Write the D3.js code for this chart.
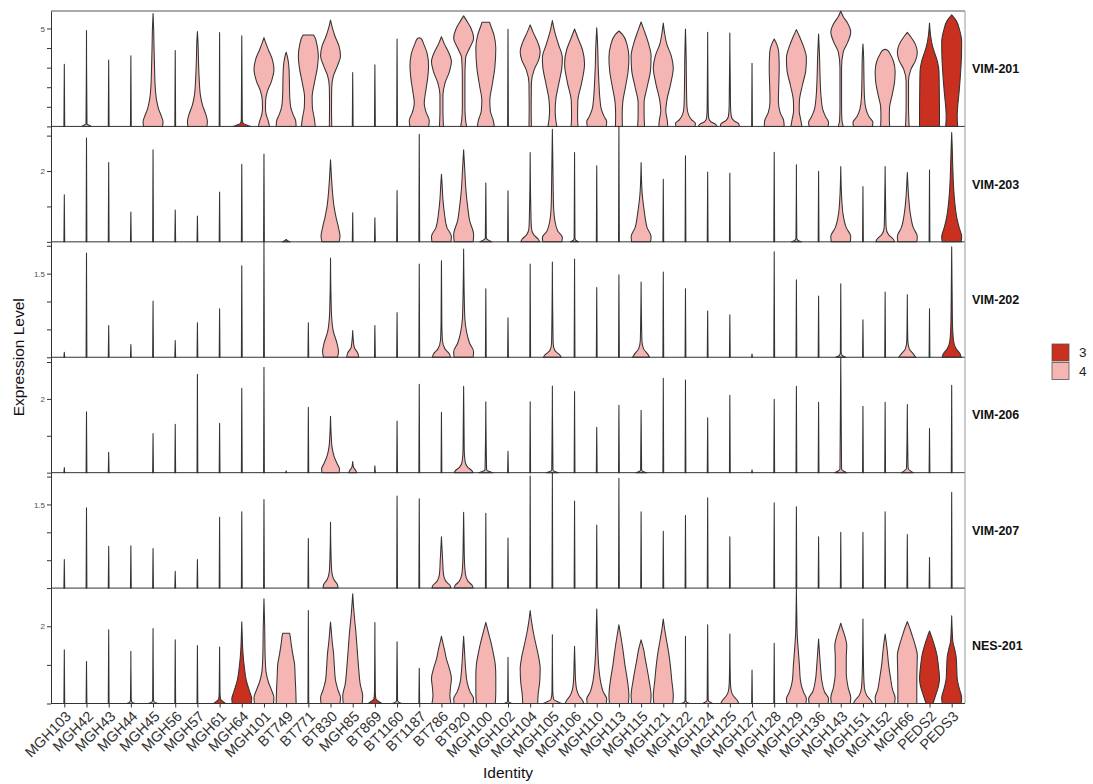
<!DOCTYPE html>
<html>
<head>
<meta charset="utf-8">
<script src="https://cdn.jsdelivr.net/npm/d3@7"></script>
<style>
  html, body { margin: 0; padding: 0; background: #fff; }
  svg { display: block; font-family: "Liberation Sans", Arial, sans-serif; }
</style>
</head>
<body>
<svg id="chart" width="1093" height="784"></svg>
<script>
// Sample identities along the x axis
const identities = ["MGH103","MGH42","MGH43","MGH44","MGH45","MGH56","MGH57","MGH61","MGH64",
  "MGH101","BT749","BT771","BT830","MGH85","BT869","BT1160","BT1187","BT786","BT920","MGH100",
  "MGH102","MGH104","MGH105","MGH106","MGH110","MGH113","MGH115","MGH121","MGH122","MGH124",
  "MGH125","MGH127","MGH128","MGH129","MGH136","MGH143","MGH151","MGH152","MGH66","PEDS2","PEDS3"];

// Identities belonging to group "3"; all others are group "4"
const group3 = ["MGH61","MGH64","BT869","PEDS2","PEDS3"];
const groups = ["3", "4"];
const groupColors = ["#c9301f", "#f5b5b2"];

// Transcripts, one per panel row
const genes = ["VIM-201","VIM-203","VIM-202","VIM-206","VIM-207","NES-201"];

// Violin profiles per identity: a number is a bare violin reaching that value,
// an array lists [expression, relative half-width] knots from 0 up to the maximum.
const vim201 = [3.17, [[0,0.5],[0.05,0.3],[0.12,0.05],[4.89,0]], 3.39, 3.6,
  [[0,0.95],[0.25,1.0],[0.5,0.85],[0.9,0.55],[1.35,0.35],[2,0.22],[3,0.15],[4,0.1],[5,0.06],[5.76,0]],
  3.87,
  [[0,0.95],[0.25,1.0],[0.6,0.85],[1.1,0.5],[1.6,0.3],[2.4,0.18],[3.5,0.1],[4.3,0.06],[4.84,0]],
  4.79,
  [[0,0.9],[0.05,0.6],[0.15,0.15],[0.3,0.05],[1,0.04],[4.62,0]],
  [[0,0.55],[0.25,0.45],[0.55,0.25],[0.9,0.15],[1.35,0.17],[1.8,0.35],[2.3,0.75],[2.9,1.0],[3.4,0.85],[3.9,0.45],[4.3,0.15],[4.53,0]],
  [[0,1.0],[0.3,0.95],[0.6,0.7],[1.0,0.45],[1.6,0.35],[2.4,0.32],[3.0,0.28],[3.5,0.15],[3.79,0]],
  [[0,0.7],[0.4,0.6],[1.0,0.4],[1.5,0.38],[2.2,0.6],[3.0,0.9],[3.6,1.0],[4.2,0.85],[4.6,0.6],[4.67,0.5]],
  [[0,0.12],[1,0.1],[2,0.12],[2.6,0.3],[3.1,0.7],[3.6,1.0],[4.1,0.85],[4.6,0.45],[5.0,0.2],[5.43,0]],
  2.75, 3.14, 4.46,
  [[0,0.95],[0.3,1.0],[0.7,0.7],[1.2,0.5],[1.8,0.65],[2.5,0.85],[3.1,0.93],[3.7,0.8],[4.2,0.45],[4.5,0.15],[4.53,0]],
  [[0,0.2],[0.8,0.15],[1.6,0.15],[2.2,0.35],[2.8,0.8],[3.3,1.0],[3.8,0.7],[4.2,0.3],[4.58,0]],
  [[0,0.3],[0.3,0.2],[1,0.13],[2.5,0.13],[3.5,0.2],[4.0,0.6],[4.5,1.0],[5.0,0.75],[5.4,0.3],[5.64,0]],
  [[0,0.85],[0.3,0.75],[0.8,0.45],[1.35,0.4],[2.0,0.6],[3.0,0.9],[4.0,1.0],[4.7,0.8],[5.2,0.45],[5.32,0.38]],
  4.96,
  [[0,0.12],[1,0.1],[2.2,0.12],[2.9,0.4],[3.4,0.85],[3.8,1.0],[4.3,0.75],[4.8,0.3],[5.18,0]],
  [[0,0.45],[0.3,0.35],[0.8,0.28],[1.4,0.35],[2.2,0.65],[3.0,0.95],[3.5,1.0],[4.2,0.6],[4.8,0.25],[5.4,0]],
  [[0,0.35],[0.5,0.3],[1.3,0.33],[2.2,0.7],[3.2,1.0],[3.9,0.8],[4.5,0.35],[4.97,0]],
  [[0,0.95],[0.25,1.0],[0.5,0.75],[0.9,0.45],[1.4,0.32],[2.2,0.22],[3.0,0.15],[4.0,0.1],[5.03,0]],
  [[0,0.35],[0.6,0.33],[1.2,0.38],[2.0,0.65],[2.8,0.92],[3.5,1.0],[4.2,0.8],[4.7,0.35],[4.87,0]],
  [[0,0.35],[0.6,0.3],[1.2,0.3],[2.0,0.6],[2.9,0.95],[3.6,1.0],[4.3,0.7],[4.9,0.3],[5.33,0]],
  [[0,0.45],[0.3,0.4],[0.8,0.25],[1.3,0.35],[2.2,0.75],[3.0,1.0],[3.6,0.8],[4.2,0.35],[4.8,0.12],[5.27,0]],
  [[0,0.95],[0.15,1.0],[0.35,0.6],[0.6,0.3],[1.0,0.15],[2,0.1],[3.5,0.07],[4.97,0]],
  [[0,0.95],[0.1,0.8],[0.25,0.3],[0.45,0.1],[1,0.05],[4.8,0]],
  [[0,0.95],[0.12,0.9],[0.3,0.4],[0.5,0.15],[1,0.07],[4.77,0]],
  3.22,
  [[0,1.0],[0.3,0.95],[0.7,0.6],[1.3,0.42],[2.0,0.45],[3.0,0.5],[3.8,0.45],[4.2,0.25],[4.46,0]],
  [[0,0.55],[0.3,0.45],[0.8,0.28],[1.3,0.3],[2.1,0.6],[2.9,0.95],[3.5,1.0],[4.1,0.7],[4.6,0.3],[4.94,0]],
  [[0,0.95],[0.2,1.0],[0.5,0.7],[0.9,0.4],[1.5,0.25],[2.5,0.15],[3.5,0.1],[4.72,0]],
  [[0,0.25],[0.3,0.12],[1,0.08],[3,0.08],[3.8,0.25],[4.3,0.7],[4.8,1.0],[5.3,0.65],[5.6,0.25],[5.89,0]],
  [[0,0.95],[0.2,1.0],[0.5,0.6],[0.9,0.3],[1.5,0.15],[2.5,0.1],[3.5,0.07],[4.21,0]],
  [[0,0.45],[0.5,0.42],[1.0,0.45],[1.6,0.7],[2.3,0.95],[2.8,1.0],[3.3,0.85],[3.7,0.5],[3.9,0.2],[3.94,0]],
  [[0,0.18],[1,0.12],[2.3,0.12],[2.9,0.35],[3.4,0.85],[3.8,1.0],[4.2,0.8],[4.6,0.3],[4.8,0]],
  [[0,1.0],[0.8,1.0],[1.8,0.98],[2.8,0.95],[3.3,0.8],[3.7,0.55],[4.1,0.3],[4.6,0.12],[5.27,0]],
  [[0,0.6],[0.5,0.55],[1.0,0.6],[1.8,0.75],[2.8,0.9],[3.6,0.98],[4.3,1.0],[4.9,0.8],[5.4,0.45],[5.69,0]]
];

const vim203 = [1.33, 2.93, 2.24, 0.84, 2.6, 0.9, 0.73, 1.41, 2.19, 2.48,
  [[0,0.4],[0.03,0.15],[0.07,0]],
  0,
  [[0,0.85],[0.15,0.95],[0.4,0.8],[0.7,0.55],[1.0,0.35],[1.4,0.2],[1.8,0.1],[2.32,0]],
  0.82, 0.68, 1.45, 3.04,
  [[0,0.95],[0.15,1.0],[0.4,0.55],[0.8,0.3],[1.2,0.15],[1.6,0.07],[1.91,0]],
  [[0,0.95],[0.2,1.0],[0.6,0.6],[1.0,0.4],[1.5,0.22],[2.0,0.12],[2.6,0]],
  [[0,0.6],[0.04,0.3],[0.1,0.05],[1.66,0]],
  1.44,
  [[0,0.95],[0.08,0.8],[0.2,0.35],[0.4,0.12],[1,0.06],[2.52,0]],
  [[0,0.95],[0.12,1.0],[0.3,0.55],[0.6,0.25],[1.0,0.12],[2,0.06],[3.18,0]],
  [[0,0.4],[0.05,0.1],[0.12,0.04],[2.52,0]],
  2.15, 3.26,
  [[0,0.95],[0.15,1.0],[0.4,0.6],[0.7,0.4],[1.0,0.25],[1.4,0.1],[2.24,0]],
  1.77, 2.43, 1.97, 1.94, 0, 2.53,
  [[0,0.5],[0.04,0.15],[0.1,0.04],[2.18,0]],
  1.99,
  [[0,0.95],[0.15,1.0],[0.4,0.55],[0.8,0.22],[1.2,0.1],[2.13,0]],
  1.56,
  [[0,0.95],[0.08,0.8],[0.2,0.35],[0.4,0.1],[1,0.05],[2.13,0]],
  [[0,0.95],[0.15,1.0],[0.4,0.6],[0.8,0.3],[1.2,0.15],[1.6,0.06],[1.96,0]],
  2.03,
  [[0,0.95],[0.15,1.0],[0.4,0.75],[0.7,0.5],[1.0,0.35],[1.5,0.2],[2.2,0.1],[2.7,0.05],[3.09,0]]
];

const vim202 = [0.09, 1.87, 0.57, 0.23, 1.01, 0.3, 0.62, 0.87, 1.64, 2.07, 0, 0.62,
  [[0,0.7],[0.1,0.8],[0.25,0.65],[0.45,0.3],[0.7,0.12],[1.0,0.06],[1.78,0]],
  [[0,0.6],[0.08,0.5],[0.18,0.15],[0.48,0]],
  0.57, 0.8, 1.67,
  [[0,0.9],[0.06,0.8],[0.15,0.35],[0.3,0.1],[0.6,0.04],[1.73,0]],
  [[0,0.95],[0.1,1.0],[0.25,0.6],[0.45,0.3],[0.7,0.12],[1.1,0.06],[1.94,0]],
  1.23, 0.71, 1.67,
  [[0,0.9],[0.05,0.7],[0.12,0.25],[0.25,0.08],[1.71,0]],
  1.76, 1.25, 1.48,
  [[0,0.85],[0.06,0.65],[0.15,0.25],[0.3,0.08],[1.35,0]],
  1.53, 1.23, 0.83, 0.76, 0.06, 1.89, 1.39, 1.1,
  [[0,0.5],[0.03,0.15],[0.08,0.04],[1.32,0]],
  0.67, 1.17,
  [[0,0.85],[0.06,0.6],[0.15,0.2],[0.3,0.05],[1.12,0]],
  0.87,
  [[0,0.95],[0.06,0.85],[0.15,0.45],[0.3,0.18],[0.6,0.08],[1.2,0.04],[1.98,0]]
];

const vim206 = [0.14, 1.65, 0.55, 0, 1.06, 1.31, 2.67, 1.34, 2.29, 2.86, 0.05, 1.77,
  [[0,0.85],[0.1,0.9],[0.25,0.65],[0.45,0.35],[0.7,0.15],[1.0,0.07],[1.53,0]],
  [[0,0.4],[0.06,0.3],[0.15,0.08],[0.3,0]],
  0.19, 1.4, 2.4, 1.64,
  [[0,0.95],[0.06,0.8],[0.15,0.4],[0.3,0.15],[0.6,0.06],[1.2,0.04],[2.34,0]],
  [[0,0.7],[0.03,0.35],[0.08,0.08],[1.92,0]],
  0.58, 1.92,
  [[0,0.6],[0.03,0.25],[0.08,0.06],[2.35,0]],
  2.2, 1.23, 1.83,
  [[0,0.55],[0.03,0.2],[0.08,0.05],[1.69,0]],
  2.56, 2.51, 1.49, 2.1, 0.08, 1.99, 2.34, 1.91,
  [[0,0.6],[0.04,0.3],[0.1,0.08],[3.13,0]],
  1.8, 1.91,
  [[0,0.6],[0.05,0.3],[0.12,0.08],[1.85,0]],
  1.2, 2.37
];

const vim207 = [0.51, 1.44, 0.75, 0.76, 0.71, 0.3, 0.51, 1.27, 1.37, 1.59, 0, 0.89,
  [[0,0.75],[0.06,0.7],[0.15,0.35],[0.3,0.12],[0.6,0.05],[1.18,0]],
  0, 0, 1.65, 1.6,
  [[0,0.95],[0.05,0.85],[0.12,0.45],[0.25,0.2],[0.5,0.12],[0.7,0.06],[0.92,0]],
  [[0,0.95],[0.05,0.85],[0.12,0.45],[0.25,0.18],[0.5,0.08],[0.9,0.04],[1.36,0]],
  1.34, 0.9, 2.01, 2.07, 1.56, 1.13, 1.97, 1.37, 1.02, 1.3, 1.62, 0.92, 0,
  1.53, 1.46, 0.92, 1.0, 1.0, 1.37, 0.96, 0.55, 1.72
];

const nes201 = [1.39, 1.09, 1.91,
  [[0,0.4],[0.04,0.1],[0.1,0.04],[1.35,0]],
  [[0,0.5],[0.04,0.12],[0.1,0.04],[1.94,0]],
  1.65, 1.5,
  [[0,0.6],[0.05,0.35],[0.12,0.08],[0.3,0.04],[1.46,0]],
  [[0,0.95],[0.12,1.0],[0.3,0.8],[0.6,0.45],[0.95,0.25],[1.3,0.12],[1.7,0.05],[2.12,0]],
  [[0,0.95],[0.15,1.0],[0.35,0.75],[0.55,0.45],[0.8,0.22],[1.2,0.12],[2,0.07],[2.71,0]],
  [[0,1.0],[0.3,0.97],[0.7,0.9],[1.0,0.85],[1.3,0.65],[1.55,0.5],[1.75,0.4],[1.82,0.35]],
  2.41,
  [[0,0.95],[0.15,1.0],[0.35,0.75],[0.6,0.5],[0.9,0.4],[1.3,0.3],[1.6,0.17],[1.9,0.07],[2.11,0]],
  [[0,0.95],[0.2,1.0],[0.5,0.75],[0.9,0.6],[1.4,0.45],[1.9,0.3],[2.3,0.15],[2.84,0]],
  [[0,0.7],[0.04,0.45],[0.12,0.1],[0.3,0.04],[2.1,0]],
  [[0,0.5],[0.03,0.2],[0.08,0.05],[1.6,0]],
  0.91,
  [[0,0.95],[0.2,0.85],[0.4,0.9],[0.65,1.0],[0.9,0.8],[1.15,0.5],[1.4,0.3],[1.6,0.12],[1.74,0]],
  [[0,0.95],[0.12,1.0],[0.3,0.65],[0.55,0.35],[0.9,0.2],[1.3,0.1],[1.74,0]],
  [[0,0.95],[0.3,1.0],[0.7,1.0],[1.0,0.95],[1.3,0.75],[1.6,0.5],[1.85,0.25],[2.1,0]],
  [[0,0.4],[0.03,0.1],[0.08,0.04],[1.2,0]],
  [[0,0.75],[0.25,0.8],[0.55,0.95],[0.9,1.0],[1.2,0.85],[1.5,0.6],[1.8,0.35],[2.1,0.15],[2.41,0]],
  [[0,0.9],[0.04,0.6],[0.1,0.15],[0.3,0.04],[1.78,0]],
  [[0,0.95],[0.08,0.8],[0.2,0.45],[0.35,0.22],[0.6,0.1],[1,0.05],[1.48,0]],
  [[0,0.95],[0.12,1.0],[0.3,0.65],[0.55,0.4],[0.9,0.22],[1.3,0.12],[1.8,0.06],[2.45,0]],
  [[0,0.95],[0.2,1.0],[0.6,0.85],[1.0,0.6],[1.3,0.45],[1.6,0.28],[1.85,0.12],[2.04,0]],
  [[0,0.95],[0.2,1.0],[0.6,0.8],[0.9,0.6],[1.15,0.42],[1.4,0.25],[1.55,0.1],[1.65,0]],
  [[0,0.95],[0.2,1.0],[0.6,0.85],[1.0,0.7],[1.3,0.55],[1.6,0.35],[1.9,0.15],[2.19,0]],
  [[0,0.45],[0.03,0.15],[0.08,0.04],[1.74,0]],
  [[0,0.5],[0.04,0.2],[0.1,0.05],[2.04,0]],
  [[0,0.9],[0.08,0.75],[0.2,0.35],[0.35,0.12],[0.6,0.05],[1.8,0]],
  0.87, 1.56,
  [[0,0.95],[0.12,1.0],[0.3,0.7],[0.6,0.4],[1.0,0.3],[1.4,0.18],[1.8,0.08],[2.3,0.04],[2.99,0]],
  [[0,0.95],[0.12,1.0],[0.3,0.6],[0.6,0.32],[1.0,0.18],[1.4,0.07],[1.67,0]],
  [[0,0.95],[0.15,1.0],[0.4,0.75],[0.8,0.55],[1.2,0.55],[1.5,0.6],[1.75,0.4],[1.95,0.15],[2.08,0]],
  [[0,0.95],[0.08,0.8],[0.2,0.4],[0.4,0.15],[0.8,0.07],[2.19,0]],
  [[0,0.95],[0.15,1.0],[0.35,0.75],[0.65,0.55],[1.0,0.35],[1.4,0.2],[1.65,0.08],[1.8,0]],
  [[0,0.95],[0.5,0.95],[1.0,0.98],[1.25,1.0],[1.5,0.8],[1.75,0.5],[1.95,0.25],[2.12,0]],
  [[0,0.35],[0.2,0.6],[0.45,0.9],[0.65,1.0],[0.95,0.9],[1.25,0.75],[1.5,0.5],[1.7,0.25],[1.88,0]],
  [[0,0.95],[0.15,1.0],[0.35,0.8],[0.65,0.55],[0.95,0.5],[1.2,0.45],[1.4,0.3],[1.6,0.12],[1.9,0.05],[2.27,0]]
];

const panelProfiles = [vim201, vim203, vim202, vim206, vim207, nes201];

// y-axis ticks per panel, and which of them carry a printed label
const tickValues = [[0,1,2,3,4,5],[0,1,2,3],[0,0.5,1,1.5,2],[0,1,2,3],[0,0.5,1,1.5,2],[0,1,2]];
const tickLabels = [[5],[2],[1.5],[2],[1.5],[2]];

// ---- layout ----
const margin = {left: 51, right: 965, top: 11, bottom: 703.5};
const svg = d3.select("#chart");

const x = d3.scalePoint().domain(identities).range([margin.left, margin.right]).padding(0.6);
const row = d3.scaleBand().domain(genes).range([margin.top, margin.bottom]).paddingInner(0);
const halfWidth = x.step() * 0.45;
const color = d3.scaleOrdinal().domain(groups).range(groupColors);
const groupOf = id => group3.includes(id) ? "3" : "4";

function toProfile(entry) {
  if (Array.isArray(entry)) return entry;
  return entry > 0 ? [[0, 0.04], [entry, 0]] : null;
}
const topOf = entry => { const p = toProfile(entry); return p ? p[p.length - 1][0] : 0; };

genes.forEach((gene, gi) => {
  const profiles = panelProfiles[gi];
  const y0 = row(gene), y1 = y0 + row.bandwidth();
  const y = d3.scaleLinear().domain([0, d3.max(profiles, topOf)]).range([y1, y0]);

  const g = svg.append("g").attr("class", "panel");

  // violins
  profiles.forEach((entry, i) => {
    const p = toProfile(entry);
    if (!p) return;
    const id = identities[i];
    const cx = x(id);
    const area = d3.area()
      .y(d => y(d[0]))
      .x0(d => cx - d[1] * halfWidth)
      .x1(d => cx + d[1] * halfWidth)
      .curve(d3.curveMonotoneY);
    g.append("path")
      .attr("d", area(p))
      .attr("fill", color(groupOf(id)))
      .attr("stroke", "#333")
      .attr("stroke-width", 1.05)
      .attr("stroke-linejoin", "round");
  });

  // panel bottom rule
  g.append("line")
    .attr("x1", margin.left).attr("x2", margin.right)
    .attr("y1", y1).attr("y2", y1)
    .attr("stroke", "#333").attr("stroke-width", 1);

  // y axis
  const labelled = tickLabels[gi];
  const axis = d3.axisLeft(y)
    .tickValues(tickValues[gi])
    .tickSize(4)
    .tickSizeOuter(0)
    .tickFormat(d => labelled.includes(d) ? d3.format("~g")(d) : "");
  const ag = svg.append("g")
    .attr("transform", `translate(${margin.left},0)`)
    .call(axis);
  ag.select(".domain").attr("stroke", "#333");
  ag.selectAll(".tick line").attr("stroke", "#333");
  ag.selectAll(".tick text")
    .attr("fill", "#4d4d4d")
    .style("font-size", "8px")
    .attr("x", -6);

  // strip label on the right
  svg.append("text")
    .attr("x", 972)
    .attr("y", (y0 + y1) / 2)
    .attr("dy", "0.35em")
    .attr("font-weight", "bold")
    .attr("font-size", 12.5)
    .attr("fill", "#111")
    .text(gene);
});

// frame: top and right edges
svg.append("line")
  .attr("x1", margin.left).attr("x2", margin.right)
  .attr("y1", margin.top).attr("y2", margin.top)
  .attr("stroke", "#555").attr("stroke-width", 1);
svg.append("line")
  .attr("x1", margin.right).attr("x2", margin.right)
  .attr("y1", margin.top).attr("y2", margin.bottom)
  .attr("stroke", "#999").attr("stroke-width", 1);

// x axis with rotated identity labels
const xa = svg.append("g")
  .attr("transform", `translate(0,${margin.bottom})`)
  .call(d3.axisBottom(x).tickSize(4).tickSizeOuter(0).tickFormat(""));
xa.select(".domain").remove();
xa.selectAll(".tick line").attr("stroke", "#333");

svg.append("g").selectAll("text")
  .data(identities)
  .join("text")
  .attr("transform", d => `translate(${x(d)},${margin.bottom + 6}) rotate(-45)`)
  .attr("text-anchor", "end")
  .attr("dy", "0.75em")
  .attr("font-size", 14.5)
  .attr("fill", "#333")
  .text(d => d);

// axis titles
svg.append("text")
  .attr("x", (margin.left + margin.right) / 2)
  .attr("y", 778)
  .attr("text-anchor", "middle")
  .attr("font-size", 15.5)
  .attr("fill", "#111")
  .text("Identity");

svg.append("text")
  .attr("transform", `translate(24,${(margin.top + margin.bottom) / 2}) rotate(-90)`)
  .attr("text-anchor", "middle")
  .attr("font-size", 15.5)
  .attr("fill", "#111")
  .text("Expression Level");

// legend
const lg = svg.append("g").attr("transform", "translate(1052,344)");
groups.forEach((grp, i) => {
  lg.append("rect")
    .attr("x", 0).attr("y", i * 18.5)
    .attr("width", 17).attr("height", 17)
    .attr("fill", color(grp))
    .attr("stroke", "#555").attr("stroke-width", 0.8);
  lg.append("text")
    .attr("x", 27).attr("y", i * 18.5 + 8.5)
    .attr("dy", "0.35em")
    .attr("font-size", 13.5)
    .attr("fill", "#222")
    .text(grp);
});
</script>
</body>
</html>
